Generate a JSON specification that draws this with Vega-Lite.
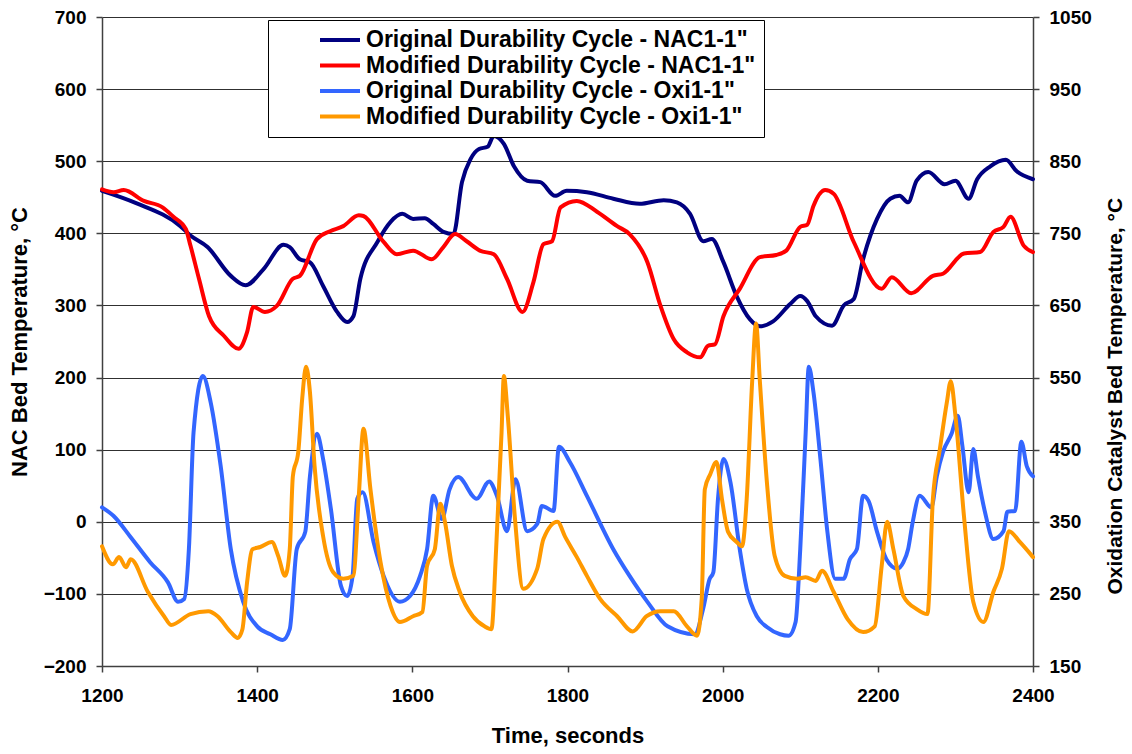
{
  "$schema": "https://vega.github.io/schema/vega-lite/v6.json",
  "width": 931,
  "height": 649,
  "autosize": {"type": "none"},
  "padding": {"left": 102, "top": 17, "right": 99, "bottom": 88},
  "background": "white",
  "config": {
    "view": {"stroke": null},
    "font": "Liberation Sans",
    "axis": {
      "labelFont": "Liberation Sans",
      "labelFontWeight": "bold",
      "labelFontSize": 19,
      "labelColor": "black",
      "titleFont": "Liberation Sans",
      "titleFontWeight": "bold",
      "titleFontSize": 22,
      "titleColor": "black",
      "domainColor": "#404040",
      "domainWidth": 1.5,
      "tickColor": "#404040",
      "tickWidth": 1.5,
      "tickSize": 6
    },
    "legend": {
      "orient": "none",
      "legendX": 166,
      "legendY": 3,
      "fillColor": "white",
      "strokeColor": "black",
      "padding": 8,
      "symbolType": "M-2,0L2,0",
      "symbolSize": 400,
      "symbolStrokeWidth": 4,
      "symbolOffset": 52,
      "labelOffset": 14,
      "labelFont": "Liberation Sans",
      "labelFontWeight": "bold",
      "labelFontSize": 23,
      "labelColor": "black",
      "labelLimit": 600,
      "rowPadding": 1.5
    }
  },
  "datasets": {
    "origNac": [
      {"t": 1200, "temp": 459}, {"t": 1244, "temp": 442}, {"t": 1301, "temp": 410}, {"t": 1314, "temp": 397},
      {"t": 1336, "temp": 381}, {"t": 1366, "temp": 341}, {"t": 1385, "temp": 328}, {"t": 1408, "temp": 350},
      {"t": 1434, "temp": 384}, {"t": 1442, "temp": 381}, {"t": 1455, "temp": 364}, {"t": 1468, "temp": 360},
      {"t": 1485, "temp": 327}, {"t": 1503, "temp": 291}, {"t": 1516, "temp": 277}, {"t": 1524, "temp": 285},
      {"t": 1533, "temp": 337}, {"t": 1555, "temp": 388}, {"t": 1572, "temp": 416}, {"t": 1587, "temp": 427},
      {"t": 1601, "temp": 420}, {"t": 1616, "temp": 421}, {"t": 1627, "temp": 413}, {"t": 1640, "temp": 402},
      {"t": 1653, "temp": 399}, {"t": 1664, "temp": 471}, {"t": 1675, "temp": 503}, {"t": 1686, "temp": 517},
      {"t": 1697, "temp": 520}, {"t": 1705, "temp": 535}, {"t": 1718, "temp": 524}, {"t": 1731, "temp": 493},
      {"t": 1748, "temp": 473}, {"t": 1765, "temp": 471}, {"t": 1784, "temp": 452}, {"t": 1799, "temp": 459},
      {"t": 1825, "temp": 457}, {"t": 1859, "temp": 448}, {"t": 1893, "temp": 441}, {"t": 1924, "temp": 446},
      {"t": 1941, "temp": 443}, {"t": 1958, "temp": 427}, {"t": 1975, "temp": 389}, {"t": 1986, "temp": 392},
      {"t": 2001, "temp": 360}, {"t": 2018, "temp": 313}, {"t": 2035, "temp": 281}, {"t": 2048, "temp": 271},
      {"t": 2065, "temp": 278}, {"t": 2087, "temp": 302}, {"t": 2100, "temp": 313}, {"t": 2109, "temp": 306},
      {"t": 2120, "temp": 285}, {"t": 2141, "temp": 272}, {"t": 2156, "temp": 300}, {"t": 2169, "temp": 309},
      {"t": 2181, "temp": 364}, {"t": 2199, "temp": 420}, {"t": 2216, "temp": 448}, {"t": 2228, "temp": 452},
      {"t": 2239, "temp": 443}, {"t": 2250, "temp": 473}, {"t": 2265, "temp": 485}, {"t": 2286, "temp": 468},
      {"t": 2300, "temp": 473}, {"t": 2317, "temp": 448}, {"t": 2328, "temp": 475}, {"t": 2345, "temp": 493},
      {"t": 2365, "temp": 502}, {"t": 2379, "temp": 486}, {"t": 2400, "temp": 475}
    ],
    "modNac": [
      {"t": 1200, "temp": 461}, {"t": 1215, "temp": 457}, {"t": 1228, "temp": 460}, {"t": 1254, "temp": 445},
      {"t": 1278, "temp": 436}, {"t": 1292, "temp": 423}, {"t": 1308, "temp": 406}, {"t": 1314, "temp": 383},
      {"t": 1325, "temp": 337}, {"t": 1338, "temp": 285}, {"t": 1357, "temp": 258}, {"t": 1376, "temp": 240},
      {"t": 1387, "temp": 263}, {"t": 1395, "temp": 298}, {"t": 1410, "temp": 291}, {"t": 1425, "temp": 299},
      {"t": 1446, "temp": 337}, {"t": 1455, "temp": 341}, {"t": 1477, "temp": 392}, {"t": 1494, "temp": 403},
      {"t": 1511, "temp": 410}, {"t": 1531, "temp": 425}, {"t": 1537, "temp": 424}, {"t": 1563, "temp": 388},
      {"t": 1580, "temp": 371}, {"t": 1601, "temp": 376}, {"t": 1625, "temp": 364}, {"t": 1640, "temp": 381},
      {"t": 1655, "temp": 399}, {"t": 1670, "temp": 389}, {"t": 1687, "temp": 376}, {"t": 1705, "temp": 371},
      {"t": 1722, "temp": 337}, {"t": 1742, "temp": 291}, {"t": 1756, "temp": 332}, {"t": 1769, "temp": 385},
      {"t": 1780, "temp": 389}, {"t": 1791, "temp": 436}, {"t": 1812, "temp": 445}, {"t": 1838, "temp": 430},
      {"t": 1864, "temp": 410}, {"t": 1880, "temp": 399}, {"t": 1903, "temp": 360}, {"t": 1920, "temp": 299},
      {"t": 1937, "temp": 253}, {"t": 1954, "temp": 235}, {"t": 1971, "temp": 228}, {"t": 1981, "temp": 244},
      {"t": 1990, "temp": 246}, {"t": 2001, "temp": 285}, {"t": 2022, "temp": 323}, {"t": 2048, "temp": 367},
      {"t": 2069, "temp": 370}, {"t": 2082, "temp": 376}, {"t": 2100, "temp": 409}, {"t": 2109, "temp": 412},
      {"t": 2117, "temp": 438}, {"t": 2132, "temp": 460}, {"t": 2143, "temp": 455}, {"t": 2169, "temp": 388},
      {"t": 2205, "temp": 323}, {"t": 2218, "temp": 339}, {"t": 2243, "temp": 317}, {"t": 2271, "temp": 341},
      {"t": 2284, "temp": 344}, {"t": 2311, "temp": 372}, {"t": 2332, "temp": 374}, {"t": 2349, "temp": 402},
      {"t": 2362, "temp": 409}, {"t": 2371, "temp": 423}, {"t": 2388, "temp": 383}, {"t": 2400, "temp": 374}
    ],
    "origOxi": [
      {"t": 1200, "temp": 370}, {"t": 1215, "temp": 358}, {"t": 1236, "temp": 330}, {"t": 1262, "temp": 294},
      {"t": 1285, "temp": 266}, {"t": 1298, "temp": 239}, {"t": 1306, "temp": 243}, {"t": 1312, "temp": 312},
      {"t": 1318, "temp": 474}, {"t": 1330, "temp": 552}, {"t": 1340, "temp": 516}, {"t": 1353, "temp": 427},
      {"t": 1366, "temp": 312}, {"t": 1382, "temp": 239}, {"t": 1400, "temp": 205}, {"t": 1417, "temp": 194},
      {"t": 1433, "temp": 186}, {"t": 1442, "temp": 201}, {"t": 1451, "temp": 312}, {"t": 1462, "temp": 336},
      {"t": 1468, "temp": 413}, {"t": 1477, "temp": 472}, {"t": 1485, "temp": 437}, {"t": 1495, "temp": 368},
      {"t": 1508, "temp": 261}, {"t": 1516, "temp": 247}, {"t": 1523, "temp": 275}, {"t": 1529, "temp": 382},
      {"t": 1536, "temp": 391}, {"t": 1550, "temp": 322}, {"t": 1563, "temp": 275}, {"t": 1584, "temp": 239},
      {"t": 1597, "temp": 247}, {"t": 1610, "temp": 275}, {"t": 1619, "temp": 312}, {"t": 1627, "temp": 386},
      {"t": 1638, "temp": 354}, {"t": 1648, "temp": 395}, {"t": 1659, "temp": 412}, {"t": 1683, "temp": 382},
      {"t": 1699, "temp": 406}, {"t": 1709, "temp": 386}, {"t": 1722, "temp": 337}, {"t": 1733, "temp": 409},
      {"t": 1748, "temp": 337}, {"t": 1761, "temp": 347}, {"t": 1767, "temp": 372}, {"t": 1782, "temp": 365},
      {"t": 1789, "temp": 454}, {"t": 1803, "temp": 433}, {"t": 1825, "temp": 386}, {"t": 1859, "temp": 312},
      {"t": 1880, "temp": 275}, {"t": 1903, "temp": 239}, {"t": 1929, "temp": 205}, {"t": 1964, "temp": 194},
      {"t": 1975, "temp": 230}, {"t": 1983, "temp": 270}, {"t": 1988, "temp": 280}, {"t": 1994, "temp": 382},
      {"t": 2001, "temp": 437}, {"t": 2010, "temp": 405}, {"t": 2022, "temp": 312}, {"t": 2031, "temp": 257},
      {"t": 2044, "temp": 219}, {"t": 2057, "temp": 204}, {"t": 2074, "temp": 194}, {"t": 2085, "temp": 192},
      {"t": 2094, "temp": 211}, {"t": 2100, "temp": 312}, {"t": 2107, "temp": 474}, {"t": 2111, "temp": 565},
      {"t": 2117, "temp": 530}, {"t": 2126, "temp": 437}, {"t": 2135, "temp": 336}, {"t": 2145, "temp": 271},
      {"t": 2156, "temp": 271}, {"t": 2164, "temp": 298}, {"t": 2173, "temp": 312}, {"t": 2181, "temp": 386},
      {"t": 2188, "temp": 379}, {"t": 2199, "temp": 336}, {"t": 2211, "temp": 298}, {"t": 2225, "temp": 285},
      {"t": 2233, "temp": 294}, {"t": 2239, "temp": 312}, {"t": 2245, "temp": 350}, {"t": 2254, "temp": 386},
      {"t": 2269, "temp": 370}, {"t": 2276, "temp": 413}, {"t": 2284, "temp": 447}, {"t": 2295, "temp": 472},
      {"t": 2303, "temp": 497}, {"t": 2309, "temp": 455}, {"t": 2317, "temp": 391}, {"t": 2323, "temp": 451},
      {"t": 2329, "temp": 413}, {"t": 2338, "temp": 364}, {"t": 2349, "temp": 326}, {"t": 2362, "temp": 337},
      {"t": 2367, "temp": 364}, {"t": 2377, "temp": 365}, {"t": 2385, "temp": 461}, {"t": 2392, "temp": 427},
      {"t": 2400, "temp": 413}
    ],
    "modOxi": [
      {"t": 1200, "temp": 316}, {"t": 1214, "temp": 291}, {"t": 1222, "temp": 301}, {"t": 1231, "temp": 287},
      {"t": 1237, "temp": 298}, {"t": 1259, "temp": 253}, {"t": 1280, "temp": 219}, {"t": 1289, "temp": 207},
      {"t": 1314, "temp": 222}, {"t": 1337, "temp": 226}, {"t": 1349, "temp": 219}, {"t": 1366, "temp": 197},
      {"t": 1375, "temp": 189}, {"t": 1381, "temp": 201}, {"t": 1387, "temp": 266}, {"t": 1394, "temp": 312},
      {"t": 1404, "temp": 315}, {"t": 1419, "temp": 322}, {"t": 1427, "temp": 303}, {"t": 1436, "temp": 275},
      {"t": 1442, "temp": 312}, {"t": 1446, "temp": 413}, {"t": 1453, "temp": 447}, {"t": 1458, "temp": 520},
      {"t": 1463, "temp": 565}, {"t": 1468, "temp": 530}, {"t": 1474, "temp": 427}, {"t": 1485, "temp": 330},
      {"t": 1498, "temp": 280}, {"t": 1511, "temp": 271}, {"t": 1524, "temp": 275}, {"t": 1531, "temp": 386},
      {"t": 1537, "temp": 479}, {"t": 1546, "temp": 395}, {"t": 1559, "temp": 294}, {"t": 1572, "temp": 233},
      {"t": 1584, "temp": 211}, {"t": 1601, "temp": 219}, {"t": 1613, "temp": 225}, {"t": 1619, "temp": 289},
      {"t": 1629, "temp": 312}, {"t": 1636, "temp": 375}, {"t": 1642, "temp": 350}, {"t": 1651, "temp": 289},
      {"t": 1661, "temp": 253}, {"t": 1678, "temp": 219}, {"t": 1693, "temp": 205}, {"t": 1702, "temp": 201},
      {"t": 1708, "temp": 312}, {"t": 1715, "temp": 474}, {"t": 1718, "temp": 552}, {"t": 1723, "temp": 497},
      {"t": 1732, "temp": 358}, {"t": 1743, "temp": 257}, {"t": 1761, "temp": 285}, {"t": 1769, "temp": 326},
      {"t": 1787, "temp": 350}, {"t": 1797, "temp": 329}, {"t": 1812, "temp": 301}, {"t": 1825, "temp": 275},
      {"t": 1842, "temp": 243}, {"t": 1864, "temp": 219}, {"t": 1884, "temp": 198}, {"t": 1902, "temp": 219},
      {"t": 1920, "temp": 226}, {"t": 1937, "temp": 226}, {"t": 1954, "temp": 205}, {"t": 1967, "temp": 192},
      {"t": 1973, "temp": 243}, {"t": 1977, "temp": 395}, {"t": 1984, "temp": 416}, {"t": 1992, "temp": 433},
      {"t": 1999, "temp": 382}, {"t": 2007, "temp": 336}, {"t": 2018, "temp": 322}, {"t": 2025, "temp": 316},
      {"t": 2031, "temp": 382}, {"t": 2038, "temp": 544}, {"t": 2043, "temp": 625}, {"t": 2048, "temp": 544},
      {"t": 2057, "temp": 405}, {"t": 2067, "temp": 303}, {"t": 2080, "temp": 275}, {"t": 2096, "temp": 271},
      {"t": 2107, "temp": 273}, {"t": 2120, "temp": 268}, {"t": 2128, "temp": 282}, {"t": 2143, "temp": 253},
      {"t": 2161, "temp": 215}, {"t": 2181, "temp": 197}, {"t": 2196, "temp": 205}, {"t": 2205, "temp": 289},
      {"t": 2212, "temp": 350}, {"t": 2220, "temp": 312}, {"t": 2233, "temp": 247}, {"t": 2250, "temp": 229},
      {"t": 2264, "temp": 222}, {"t": 2271, "temp": 382}, {"t": 2280, "temp": 451}, {"t": 2289, "temp": 516},
      {"t": 2294, "temp": 545}, {"t": 2300, "temp": 497}, {"t": 2311, "temp": 358}, {"t": 2323, "temp": 239},
      {"t": 2336, "temp": 211}, {"t": 2349, "temp": 253}, {"t": 2360, "temp": 285}, {"t": 2369, "temp": 337},
      {"t": 2383, "temp": 322}, {"t": 2400, "temp": 301}
    ]
  },
  "encoding": {
    "x": {
      "field": "t",
      "type": "quantitative",
      "scale": {"domain": [1200, 2400], "nice": false, "zero": false},
      "axis": {
        "title": "Time, seconds",
        "values": [1200, 1400, 1600, 1800, 2000, 2200, 2400],
        "format": "d",
        "grid": false,
        "labelFlush": false,
        "labelPadding": 14,
        "titlePadding": 20
      }
    },
    "color": {
      "field": "series",
      "type": "nominal",
      "scale": {
        "domain": [
          "Original Durability Cycle - NAC1-1\"",
          "Modified Durability Cycle - NAC1-1\"",
          "Original Durability Cycle - Oxi1-1\"",
          "Modified Durability Cycle - Oxi1-1\""
        ],
        "range": ["#000080", "#FF0000", "#3366FF", "#FF9900"]
      },
      "legend": {"title": null}
    }
  },
  "layer": [
    {
      "encoding": {
        "y": {
          "field": "temp",
          "type": "quantitative",
          "scale": {"domain": [-200, 700], "nice": false, "zero": false},
          "axis": {
            "orient": "left",
            "title": "NAC Bed Temperature, °C",
            "values": [-200, -100, 0, 100, 200, 300, 400, 500, 600, 700],
            "format": "d",
            "grid": true,
            "gridColor": "#303030",
            "gridWidth": 1.2,
            "labelPadding": 10,
            "titlePadding": 12
          }
        }
      },
      "layer": [
        {
          "data": {"name": "origNac"},
          "transform": [{"calculate": "'Original Durability Cycle - NAC1-1\"'", "as": "series"}],
          "mark": {"type": "line", "strokeWidth": 4, "interpolate": "monotone", "strokeJoin": "round", "strokeCap": "round"}
        },
        {
          "data": {"name": "modNac"},
          "transform": [{"calculate": "'Modified Durability Cycle - NAC1-1\"'", "as": "series"}],
          "mark": {"type": "line", "strokeWidth": 4, "interpolate": "monotone", "strokeJoin": "round", "strokeCap": "round"}
        }
      ]
    },
    {
      "encoding": {
        "y": {
          "field": "temp",
          "type": "quantitative",
          "scale": {"domain": [150, 1050], "nice": false, "zero": false},
          "axis": {
            "orient": "right",
            "title": "Oxidation Catalyst Bed Temperature, °C",
            "titleFontSize": 21,
            "titleAngle": -90,
            "titleAlign": "left",
            "titleY": 577,
            "values": [150, 250, 350, 450, 550, 650, 750, 850, 950, 1050],
            "format": "d",
            "grid": false,
            "labelPadding": 10,
            "titlePadding": 34
          }
        }
      },
      "layer": [
        {
          "data": {"name": "origOxi"},
          "transform": [{"calculate": "'Original Durability Cycle - Oxi1-1\"'", "as": "series"}],
          "mark": {"type": "line", "strokeWidth": 4, "interpolate": "monotone", "strokeJoin": "round", "strokeCap": "round"}
        },
        {
          "data": {"name": "modOxi"},
          "transform": [{"calculate": "'Modified Durability Cycle - Oxi1-1\"'", "as": "series"}],
          "mark": {"type": "line", "strokeWidth": 4, "interpolate": "monotone", "strokeJoin": "round", "strokeCap": "round"}
        }
      ]
    }
  ],
  "resolve": {"scale": {"y": "independent"}, "axis": {"y": "independent"}}
}
